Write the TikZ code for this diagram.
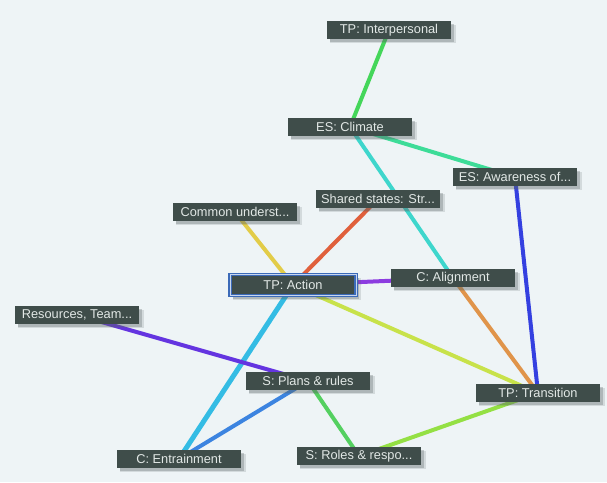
\documentclass[tikz,border=0pt]{standalone}
\usepackage{fontspec}
\setmainfont{Liberation Sans}
\usetikzlibrary{shadows}
\pgfdeclarelayer{back}
\pgfdeclarelayer{edges}
\pgfsetlayers{back,edges,main}

\definecolor{bgcol}{HTML}{EEF4F6}
\definecolor{boxfill}{HTML}{3F4D4A}
\definecolor{boxtext}{HTML}{E2E8E6}
\definecolor{pickedline}{HTML}{3B6AB8}
\definecolor{pickedgap}{HTML}{C8D6EE}
\definecolor{shadecol}{HTML}{5A6466}

\tikzset{
  topic/.style={
    rectangle, fill=boxfill, text=boxtext, font=\fontsize{12.8}{14}\selectfont,
    minimum width=124pt, minimum height=18pt, inner sep=0pt,
    general shadow={shadow xshift=4pt, shadow yshift=-4pt, shadow scale=1.02,
                    fill=shadecol, opacity=0.18},
    general shadow={shadow xshift=3pt, shadow yshift=-3pt,
                    fill=shadecol, opacity=0.3}
  },
  picked/.style={
    topic, minimum width=126pt, minimum height=21pt,
    draw=pickedline, line width=1.5pt, double=pickedgap, double distance=0.8pt
  },
  link/.style={line width=4pt, line cap=butt},
}

\begin{document}
\begin{tikzpicture}[x=1pt, y=-1pt]
  \begin{pgfonlayer}{back}
    \fill[bgcol] (0,0) rectangle (607,482);
  \end{pgfonlayer}
  \useasboundingbox (0,0) rectangle (607,482);

  % topics
  \node[topic]  (ipc)    at (389,30)  {TP: Interpersonal};
  \node[topic]  (clim)   at (350,127) {ES: Climate};
  \node[topic]  (aware)  at (515,177) {ES: Awareness of...};
  \node[topic]  (shared) at (378,199) {Shared states: Str...};
  \node[topic]  (common) at (235,212) {Common underst...};
  \node[picked] (action) at (293,285) {TP: Action};
  \node[topic]  (align)  at (453,278) {C: Alignment};
  \node[topic]  (res)    at (77,315)  {Resources, Team...};
  \node[topic]  (plans)  at (308,381) {S: Plans \& rules};
  \node[topic]  (trans)  at (538,393) {TP: Transition};
  \node[topic]  (entr)   at (179,459) {C: Entrainment};
  \node[topic]  (roles)  at (359,456) {S: Roles \& respo...};

  % links, drawn underneath the boxes
  \begin{pgfonlayer}{edges}
    \draw[link, color={rgb,255:red,68;green,214;blue,90}]   (ipc.center)    -- (clim.center);
    \draw[link, color={rgb,255:red,61;green,220;blue,152}]  (clim.center)   -- (aware.center);
    \draw[link, color={rgb,255:red,62;green,214;blue,204}]  (clim.center)   -- (align.center);
    \draw[link, color={rgb,255:red,224;green,96;blue,60}]   (shared.center) -- (action.center);
    \draw[link, color={rgb,255:red,226;green,204;blue,72}]  (common.center) -- (action.center);
    \draw[link, color={rgb,255:red,140;green,60;blue,224}]  (action.center) -- (align.center);
    \draw[link, color={rgb,255:red,200;green,226;blue,74}]  (action.center) -- (trans.center);
    \draw[link, line width=5pt, color={rgb,255:red,52;green,188;blue,228}] (action.center) -- (entr.center);
    \draw[link, color={rgb,255:red,224;green,148;blue,74}]  (align.center)  -- (trans.center);
    \draw[link, color={rgb,255:red,52;green,64;blue,224}]   (aware.center)  -- (trans.center);
    \draw[link, color={rgb,255:red,100;green,52;blue,224}]  (res.center)    -- (plans.center);
    \draw[link, color={rgb,255:red,60;green,132;blue,224}]  (plans.center)  -- (entr.center);
    \draw[link, color={rgb,255:red,84;green,208;blue,96}]   (plans.center)  -- (roles.center);
    \draw[link, color={rgb,255:red,148;green,224;blue,68}]  (roles.center)  -- (trans.center);
  \end{pgfonlayer}
\end{tikzpicture}
\end{document}
